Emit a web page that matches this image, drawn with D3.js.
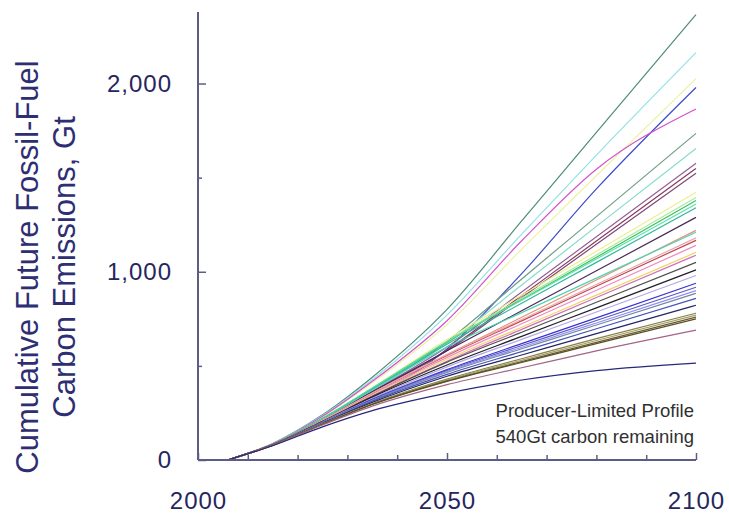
<!DOCTYPE html>
<html>
<head>
<meta charset="utf-8">
<script src="https://cdn.jsdelivr.net/npm/d3@7"></script>
<style>
  html, body { margin: 0; padding: 0; background: #fff; }
  svg { display: block; }
  text { font-family: "Liberation Sans", Arial, Helvetica, sans-serif; }
</style>
</head>
<body>
<div id="chart"></div>
<script>
// Sample years at which each cumulative-emission path is given (Gt carbon)
const years = [2006, 2015, 2025, 2035, 2050, 2065, 2080, 2100];

// Path colours, one per scenario
const pathColors = [
  "#4d8c7c", "#92e2e6", "#ecf2a8", "#3a4cc8", "#d452cc", "#6f9c84",
  "#86dccb", "#94609a", "#8a3a5a", "#7a4a7a", "#eef08c", "#a6eaa0",
  "#3cc060", "#60e0a8", "#30b8a0", "#4a2a5a", "#e8907a", "#4cd4b4",
  "#c04848", "#e8a8b0", "#f088c4", "#f0d468", "#d070b4", "#505050",
  "#202028", "#b4a8e4", "#3434d4", "#6454c4", "#8c94f0", "#7884a4",
  "#4454b4", "#242468", "#848448", "#a4a064", "#745434", "#545424",
  "#a46484", "#28287a"
];

// Cumulative future fossil-fuel carbon emissions per scenario, one row per colour
const pathValues = [
  [0, 88, 240, 440, 800, 1270, 1740, 2366],
  [0, 87, 236, 428, 770, 1200, 1620, 2164],
  [0, 86, 230, 410, 720, 1120, 1510, 2026],
  [0, 83, 208, 330, 590, 990, 1440, 1979],
  [0, 86, 232, 418, 740, 1165, 1545, 1865],
  [0, 84, 218, 370, 630, 962, 1293, 1735],
  [0, 84, 218, 368, 620, 930, 1241, 1655],
  [0, 83, 216, 364, 600, 893, 1186, 1576],
  [0, 83, 214, 358, 585, 874, 1163, 1549],
  [0, 83, 214, 358, 580, 863, 1146, 1523],
  [0, 85, 222, 384, 640, 875, 1109, 1422],
  [0, 85, 222, 382, 630, 860, 1089, 1395],
  [0, 85, 220, 380, 625, 851, 1077, 1379],
  [0, 85, 222, 382, 630, 849, 1068, 1360],
  [0, 84, 220, 376, 615, 833, 1050, 1340],
  [0, 83, 214, 362, 580, 793, 1005, 1289],
  [0, 83, 212, 356, 560, 758, 956, 1220],
  [0, 84, 218, 372, 600, 783, 966, 1210],
  [0, 83, 212, 354, 555, 739, 923, 1167],
  [0, 83, 212, 356, 560, 746, 932, 1180],
  [0, 82, 208, 348, 545, 724, 902, 1140],
  [0, 82, 208, 344, 535, 705, 876, 1103],
  [0, 82, 206, 340, 525, 694, 863, 1088],
  [0, 82, 206, 338, 520, 679, 838, 1050],
  [0, 81, 204, 334, 505, 657, 808, 1010],
  [0, 81, 202, 328, 495, 641, 786, 980],
  [0, 81, 200, 322, 480, 618, 755, 939],
  [0, 81, 200, 320, 475, 608, 741, 918],
  [0, 80, 198, 316, 470, 599, 728, 900],
  [0, 80, 198, 316, 465, 591, 717, 886],
  [0, 80, 196, 312, 455, 576, 697, 859],
  [0, 80, 194, 306, 445, 558, 671, 822],
  [0, 79, 192, 300, 430, 538, 645, 780],
  [0, 79, 192, 298, 425, 530, 635, 770],
  [0, 79, 190, 296, 420, 523, 625, 759],
  [0, 79, 190, 295, 418, 518, 618, 750],
  [0, 78, 186, 286, 400, 490, 580, 690],
  [0, 76, 176, 262, 355, 425, 475, 515]
];

// Axis ticks and labels
const xMajorTicks = [2000, 2050, 2100];
const xMinorTicks = [2010, 2020, 2030, 2040, 2060, 2070, 2080, 2090];
const yMajorTicks = [0, 1000, 2000];
const yMinorTicks = [500, 1500];
const yTitleLines = ["Cumulative Future Fossil-Fuel", "Carbon Emissions, Gt"];
const noteLines = ["Producer-Limited Profile", "540Gt carbon remaining"];

const W = 729, H = 516;
const axisColor = "#5c5c86";
const labelColor = "#26265e";

const svg = d3.select("#chart").append("svg")
  .attr("width", W).attr("height", H);

const x = d3.scaleLinear().domain([2000, 2100]).range([198, 696]);
const y = d3.scaleLinear().domain([0, 2380]).range([460, 12]);

// Scenario paths
const line = d3.line()
  .x((d, i) => x(years[i]))
  .y(d => y(d))
  .curve(d3.curveMonotoneX);

svg.append("g").selectAll("path")
  .data(pathValues)
  .join("path")
  .attr("d", d => line(d))
  .attr("fill", "none")
  .attr("stroke", (d, i) => pathColors[i])
  .attr("stroke-width", 1.2);

// Y axis: ticks point inward, labels on the left
const yAxisMajor = d3.axisLeft(y).tickValues(yMajorTicks).tickSize(-8)
  .tickPadding(26).tickFormat(d3.format(","));
const yAxisMinor = d3.axisLeft(y).tickValues(yMinorTicks).tickSize(-4).tickFormat("");

const gy = svg.append("g").attr("transform", `translate(${x(2000)},0)`).call(yAxisMajor);
svg.append("g").attr("transform", `translate(${x(2000)},0)`).call(yAxisMinor)
  .select(".domain").remove();
gy.select(".domain").attr("d", `M0,${y(2380)}V${y(0)}`);

// X axis: ticks point upward, labels below
const xAxisMajor = d3.axisBottom(x).tickValues(xMajorTicks).tickSize(-7)
  .tickPadding(32).tickFormat(d3.format("d"));
const xAxisMinor = d3.axisBottom(x).tickValues(xMinorTicks).tickSize(-5).tickFormat("");

const gx = svg.append("g").attr("transform", `translate(0,${y(0)})`).call(xAxisMajor);
svg.append("g").attr("transform", `translate(0,${y(0)})`).call(xAxisMinor)
  .select(".domain").remove();
gx.select(".domain").attr("d", `M${x(2000)},0H${x(2100)}`);

svg.selectAll(".domain").attr("stroke", axisColor).attr("stroke-width", 2);
svg.selectAll(".tick line").attr("stroke", axisColor).attr("stroke-width", 1.5);
svg.selectAll(".tick text")
  .attr("fill", labelColor)
  .style("font-size", "24px")
  .style("letter-spacing", "1px");

// Y axis title, two rotated lines
yTitleLines.forEach((t, i) => {
  svg.append("text")
    .attr("transform", `translate(${38 + i * 37},267) rotate(-90)`)
    .attr("text-anchor", "middle")
    .attr("fill", "#2e2e72")
    .style("font-size", "31px")
    .text(t);
});

// Scenario note in the lower right corner
noteLines.forEach((t, i) => {
  svg.append("text")
    .attr("x", 694)
    .attr("y", 417 + i * 26)
    .attr("text-anchor", "end")
    .attr("fill", "#303030")
    .style("font-size", "18.5px")
    .text(t);
});
</script>
</body>
</html>
